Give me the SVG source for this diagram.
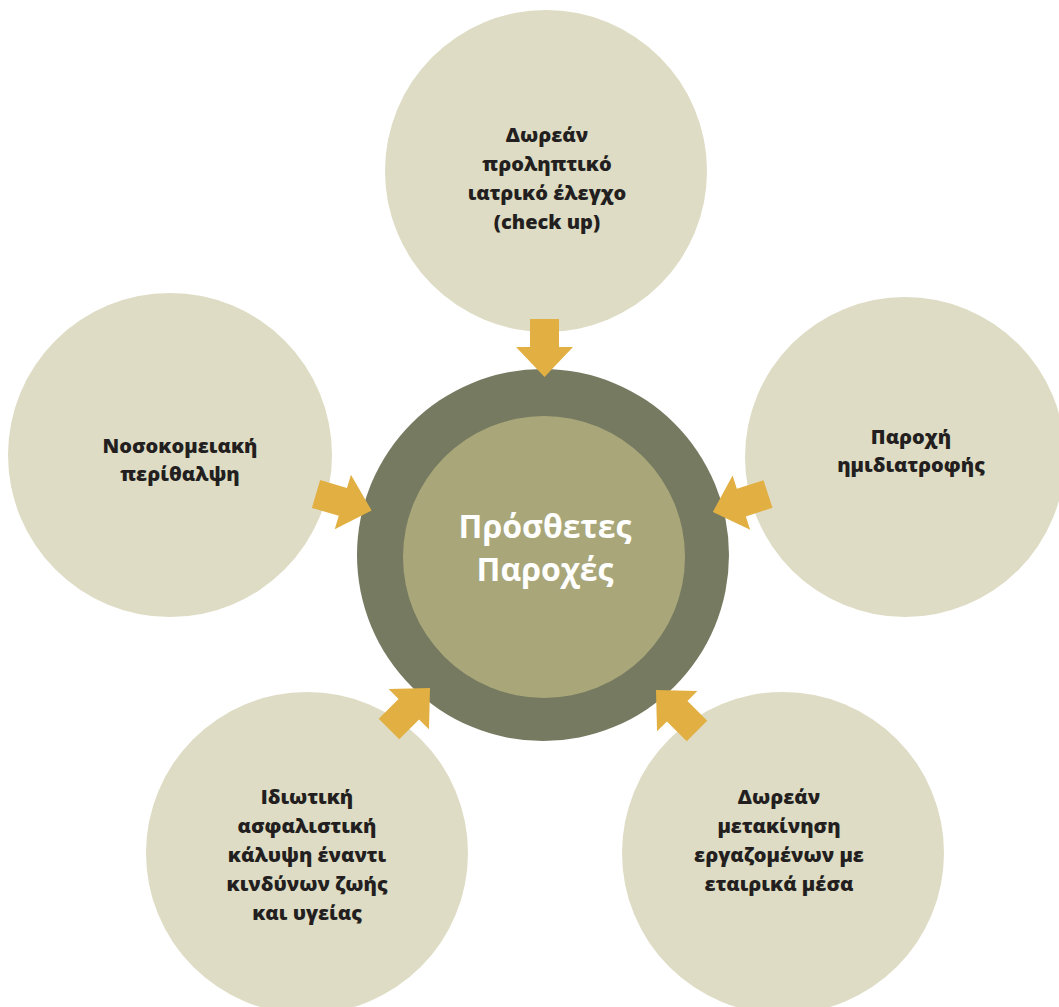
<svg xmlns="http://www.w3.org/2000/svg" width="1059" height="1007" viewBox="0 0 1059 1007">
<style>
.sat{fill:#DEDCC4}
.lbl{font-family:"Open Sans","Noto Sans","DejaVu Sans",sans-serif;font-weight:800;font-size:20px;fill:#231F20;text-anchor:middle}
.ctr{font-family:"Open Sans","Noto Sans","DejaVu Sans",sans-serif;font-weight:700;font-size:32px;fill:#FFFFFF;text-anchor:middle}
.arr{fill:#E2B042}
</style>
<defs>
<path id="arrow" d="M0,-14.5 L28,-14.5 L28,-28.5 L58,0 L28,28.5 L28,14.5 L0,14.5 Z"/>
</defs>
<rect width="1059" height="1007" fill="#FFFFFF"/>
<g id="node-top">
<circle class="sat" cx="546" cy="171" r="161"/>
<text class="lbl"><tspan x="547" y="142">Δωρεάν</tspan><tspan x="547" y="171">προληπτικό</tspan><tspan x="547" y="200">ιατρικό έλεγχο</tspan><tspan x="547" y="229">(check up)</tspan></text>
</g>
<g id="node-left">
<circle class="sat" cx="170" cy="455" r="162"/>
<text class="lbl"><tspan x="180" y="453">Νοσοκομειακή</tspan><tspan x="180" y="481">περίθαλψη</tspan></text>
</g>
<g id="node-right">
<circle class="sat" cx="905" cy="457" r="160"/>
<text class="lbl"><tspan x="911" y="444">Παροχή</tspan><tspan x="911" y="472">ημιδιατροφής</tspan></text>
</g>
<g id="node-bottom-left">
<circle class="sat" cx="307" cy="853" r="161"/>
<text class="lbl"><tspan x="307" y="804">Ιδιωτική</tspan><tspan x="307" y="833">ασφαλιστική</tspan><tspan x="307" y="862">κάλυψη έναντι</tspan><tspan x="307" y="891">κινδύνων ζωής</tspan><tspan x="307" y="920">και υγείας</tspan></text>
</g>
<g id="node-bottom-right">
<circle class="sat" cx="783" cy="853" r="161"/>
<text class="lbl"><tspan x="779" y="804">Δωρεάν</tspan><tspan x="779" y="833">μετακίνηση</tspan><tspan x="779" y="862">εργαζομένων με</tspan><tspan x="779" y="891">εταιρικά μέσα</tspan></text>
</g>
<g id="node-center">
<circle cx="543" cy="555" r="186" fill="#757A60"/>
<circle cx="544" cy="557" r="141" fill="#A9A77A"/>
<text class="ctr"><tspan x="545" y="538">Πρόσθετες</tspan><tspan x="545" y="581">Παροχές</tspan></text>
</g>
<g id="connectors" class="arr">
<use href="#arrow" transform="translate(544.5,319) rotate(90)"/>
<use href="#arrow" transform="translate(316,494) rotate(16.5)"/>
<use href="#arrow" transform="translate(768,494) rotate(162)"/>
<use href="#arrow" transform="translate(389,729) rotate(-45)"/>
<use href="#arrow" transform="translate(697,731) rotate(-135)"/>
</g>
</svg>
